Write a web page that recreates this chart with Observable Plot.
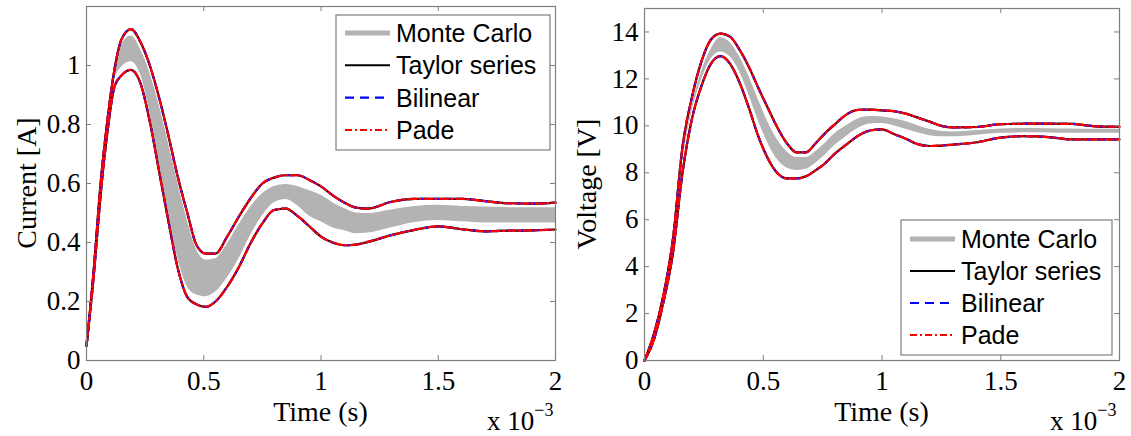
<!DOCTYPE html>
<html><head><meta charset="utf-8">
<script src="https://cdn.jsdelivr.net/npm/d3@7"></script>
<script src="https://cdn.jsdelivr.net/npm/@observablehq/plot@0.6"></script>
<style>
html,body{margin:0;padding:0;background:#fff;}
#wrap{position:relative;width:1131px;height:436px;overflow:hidden;background:#fff;}
#left,#right{position:absolute;top:0;}
#left{left:0;} #right{left:565px;}
</style></head><body><div id="wrap"><div id="left"></div><div id="right"></div></div>
<script>
// ---------- shared ----------
const xTicks = [0, 0.5, 1, 1.5, 2];           // time axis, units of 1e-3 s
const legendLabels = ["Monte Carlo", "Taylor series", "Bilinear", "Pade"];

// ---------- left panel: current ----------
const currentTime  = [0,0.03,0.06,0.09,0.12,0.15,0.19,0.23,0.27,0.31,0.35,0.39,0.43,0.47,0.51,0.55,0.6,0.65,0.7,0.75,0.8,0.85,0.9,0.95,1.0,1.05,1.1,1.15,1.2,1.3,1.4,1.5,1.6,1.7,1.8,1.9,2.0];
// Taylor / Bilinear / Pade bounds coincide in the picture
const currentUpper = [0.05,0.3,0.6,0.82,0.99,1.09,1.123,1.08,1.0,0.89,0.76,0.62,0.5,0.39,0.362,0.362,0.42,0.488,0.55,0.6,0.62,0.628,0.628,0.612,0.59,0.56,0.535,0.518,0.515,0.538,0.548,0.548,0.548,0.54,0.533,0.532,0.535];
const currentLower = [0.05,0.28,0.56,0.78,0.93,0.967,0.985,0.94,0.81,0.64,0.47,0.31,0.215,0.19,0.182,0.2,0.25,0.317,0.398,0.465,0.51,0.515,0.49,0.455,0.42,0.4,0.391,0.393,0.402,0.425,0.443,0.455,0.445,0.438,0.44,0.441,0.444];
const currentMcHigh = [0.05,0.29,0.58,0.8,0.97,1.07,1.1,1.055,0.975,0.865,0.735,0.6,0.475,0.375,0.34,0.345,0.395,0.46,0.52,0.565,0.59,0.597,0.59,0.576,0.56,0.535,0.515,0.5,0.498,0.51,0.522,0.526,0.522,0.52,0.518,0.518,0.518];
const currentMcLow  = [0.05,0.29,0.57,0.79,0.95,0.995,1.013,0.97,0.84,0.67,0.5,0.345,0.25,0.222,0.216,0.232,0.28,0.345,0.425,0.49,0.535,0.546,0.525,0.49,0.47,0.45,0.44,0.43,0.432,0.45,0.468,0.475,0.47,0.466,0.466,0.466,0.466];
const currentYTicks = [0, 0.2, 0.4, 0.6, 0.8, 1];

// ---------- right panel: voltage ----------
const voltageTime  = [0,0.04,0.08,0.12,0.16,0.2,0.24,0.28,0.32,0.36,0.4,0.44,0.48,0.52,0.56,0.6,0.64,0.68,0.72,0.76,0.8,0.85,0.9,0.95,1.0,1.05,1.1,1.15,1.2,1.25,1.3,1.4,1.5,1.6,1.7,1.8,1.9,2.0];
const voltageUpper = [0,1.15,2.8,5.2,9.1,11.23,12.75,13.68,13.93,13.8,13.25,12.5,11.6,10.75,9.92,9.25,8.87,8.87,9.25,9.68,10.05,10.48,10.68,10.69,10.66,10.62,10.52,10.35,10.18,10.0,9.93,9.95,10.07,10.09,10.09,10.08,9.98,9.96];
const voltageLower = [0,0.9,2.5,4.6,8.0,10.3,11.7,12.65,12.97,12.65,11.85,10.75,9.53,8.6,7.98,7.76,7.76,7.85,8.1,8.4,8.8,9.2,9.58,9.8,9.85,9.65,9.45,9.22,9.14,9.16,9.2,9.3,9.5,9.56,9.52,9.42,9.42,9.42];
const voltageMcHigh = [0,1.05,2.65,4.9,8.6,10.8,12.3,13.25,13.75,13.55,12.95,12.1,11.1,10.15,9.4,8.9,8.65,8.65,8.9,9.25,9.65,10.0,10.3,10.4,10.38,10.3,10.18,10.0,9.85,9.76,9.74,9.8,9.87,9.89,9.88,9.86,9.85,9.85];
const voltageMcLow  = [0,1.0,2.6,4.8,8.4,10.6,11.95,12.85,13.15,12.95,12.3,11.3,10.2,9.25,8.55,8.2,8.1,8.15,8.4,8.75,9.15,9.55,9.9,10.08,10.1,10.0,9.85,9.7,9.58,9.53,9.53,9.6,9.68,9.7,9.69,9.68,9.68,9.68];
const voltageYTicks = [0, 2, 4, 6, 8, 10, 12, 14];

const FRAME = "#7f7f7f";
const SERIF = "'Liberation Serif', 'Times New Roman', serif";
const SANS = "'Liberation Sans', Arial, sans-serif";

function makePanel(cfg) {
  const {time, upper, lower, mcHigh, mcLow, yDomain, yTicks, width, height, mL, mR, mT, mB} = cfg;
  const fw = width - mL - mR, fh = height - mT - mB;
  const band = time.map((t, i) => ({t, lo: mcLow[i], hi: mcHigh[i]}));
  const bounds = time.flatMap((t, i) => [{t, v: upper[i], b: "upper"}, {t, v: lower[i], b: "lower"}]);
  const lineOpts = {x: "t", y: "v", z: "b", curve: "monotone-x", strokeWidth: 2.2};
  const svg = Plot.plot({
    width, height, marginLeft: mL, marginRight: mR, marginTop: mT, marginBottom: mB,
    style: {fontFamily: SERIF, fontSize: "27px", color: "black", background: "white"},
    x: {domain: [0, 2]},
    y: {domain: yDomain},
    marks: [
      Plot.areaY(band, {x: "t", y1: "lo", y2: "hi", fill: "#b3b3b3", curve: "monotone-x"}),
      Plot.line(bounds, {...lineOpts, stroke: "black"}),
      Plot.line(bounds, {...lineOpts, stroke: "#0000ff", strokeDasharray: "7,5"}),
      Plot.line(bounds, {...lineOpts, stroke: "#ff0000", strokeDasharray: "8,3,2,3"}),
      Plot.ruleX(xTicks, {insetTop: fh - 5, stroke: FRAME}),
      Plot.ruleX(xTicks, {insetBottom: fh - 5, stroke: FRAME}),
      Plot.ruleY(yTicks, {insetLeft: fw - 5, stroke: FRAME}),
      Plot.ruleY(yTicks, {insetRight: fw - 5, stroke: FRAME}),
      Plot.frame({stroke: FRAME, strokeWidth: 1.2}),
      Plot.axisX(xTicks, {tickSize: 0, tickPadding: 10, label: null, tickFormat: d => String(d)}),
      Plot.axisY(yTicks, {tickSize: 0, tickPadding: 6, label: null, tickFormat: d => String(d)})
    ]
  });
  const s = d3.select(svg);
  // axis titles
  s.append("text").attr("x", mL + fw / 2).attr("y", cfg.xLabelY).attr("text-anchor", "middle")
    .style("font-family", SERIF).style("font-size", "28px").attr("fill", "black").text("Time (s)");
  const yl = mT + fh / 2;
  s.append("text").attr("transform", `translate(${cfg.yLabelX},${yl}) rotate(-90)`).attr("text-anchor", "middle")
    .style("font-family", SERIF).style("font-size", "28px").attr("fill", "black").text(cfg.yLabel);
  // exponent
  const ex = s.append("text").attr("x", cfg.expX).attr("y", cfg.expY).attr("text-anchor", "start")
    .style("font-family", SERIF).style("font-size", "27px").attr("fill", "black");
  ex.append("tspan").text("x 10");
  ex.append("tspan").attr("dy", -14).style("font-size", "18px").text("\u22123");
  // legend
  const L = cfg.legend;
  const g = s.append("g").attr("text-anchor", "start");
  g.append("rect").attr("x", L.x).attr("y", L.y).attr("width", L.w).attr("height", L.h)
    .attr("fill", "white").attr("stroke", FRAME).attr("stroke-width", 1.2);
  const styles = [
    {stroke: "#b3b3b3", w: 5, dash: null},
    {stroke: "black", w: 2, dash: null},
    {stroke: "#0000ff", w: 2.2, dash: "9,6"},
    {stroke: "#ff0000", w: 2, dash: "7,3,2,3"}
  ];
  legendLabels.forEach((lab, i) => {
    const yy = L.y + L.first + i * L.step;
    const st = styles[i];
    const ln = g.append("line").attr("x1", L.x + 9).attr("x2", L.x + 54).attr("y1", yy).attr("y2", yy)
      .attr("stroke", st.stroke).attr("stroke-width", st.w);
    if (st.dash) ln.attr("stroke-dasharray", st.dash);
    g.append("text").attr("x", L.x + 60).attr("y", yy).attr("dy", "0.36em").attr("text-anchor", "start")
      .style("font-family", SANS).style("font-size", "25px").attr("fill", "black").text(lab);
  });
  return svg;
}

document.getElementById("left").appendChild(makePanel({
  time: currentTime, upper: currentUpper, lower: currentLower, mcHigh: currentMcHigh, mcLow: currentMcLow,
  yDomain: [0, 1.2], yTicks: currentYTicks,
  width: 565, height: 436, mL: 86, mR: 10, mT: 6, mB: 76,
  xLabelY: 421, yLabelX: 36, yLabel: "Current [A]", expX: 487, expY: 430,
  legend: {x: 336, y: 15, w: 214, h: 135, first: 18, step: 32.3}
}));

document.getElementById("right").appendChild(makePanel({
  time: voltageTime, upper: voltageUpper, lower: voltageLower, mcHigh: voltageMcHigh, mcLow: voltageMcLow,
  yDomain: [0, 15], yTicks: voltageYTicks,
  width: 566, height: 436, mL: 79, mR: 12, mT: 8, mB: 76,
  xLabelY: 421, yLabelX: 31, yLabel: "Voltage [V]", expX: 485, expY: 430,
  legend: {x: 336, y: 220, w: 211, h: 135, first: 19, step: 32}
}));
</script>
</body></html>
